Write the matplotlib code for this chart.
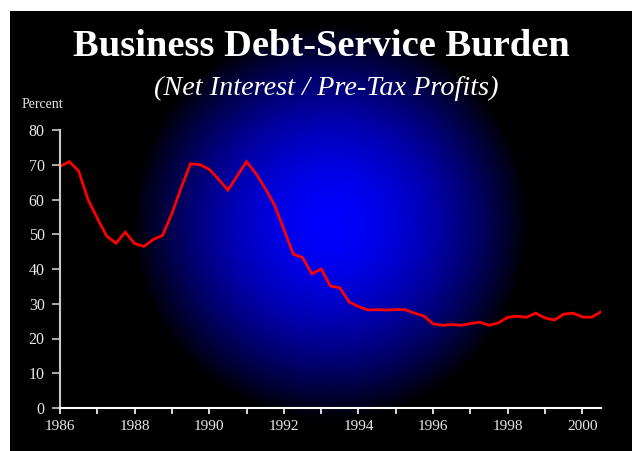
import numpy as np
import matplotlib
matplotlib.use("Agg")
import matplotlib.pyplot as plt

# Quarterly net interest as a share of pre-tax profits, 1986Q1 - 2000Q3
ratio = [
    69.5, 70.9, 68.2, 60.0, 54.6, 49.5, 47.4, 50.6, 47.3, 46.5,
    48.5, 49.7, 56.0, 63.5, 70.3, 70.0, 68.7, 65.8, 62.7, 66.8,
    70.9, 67.5, 63.2, 58.4, 51.4, 44.3, 43.3, 38.6, 40.0, 35.1,
    34.6, 30.5, 29.2, 28.2, 28.3, 28.2, 28.3, 28.3, 27.3, 26.5,
    24.2, 23.8, 24.0, 23.8, 24.3, 24.7, 23.8, 24.5, 26.1, 26.4,
    26.1, 27.3, 25.9, 25.3, 27.0, 27.3, 26.2, 26.1, 27.7,
]
start_year = 1986
dates = start_year + np.arange(len(ratio)) / 4.0

year_ticks = list(range(1986, 2001))
year_labels = [str(y) if y % 2 == 0 else "" for y in year_ticks]
pct_ticks = list(range(0, 81, 10))

title = "Business Debt-Service Burden"
subtitle = "(Net Interest / Pre-Tax Profits)"
ylabel = "Percent"

W, H = 632, 451
fig = plt.figure(figsize=(W / 100, H / 100), dpi=100)
fig.patch.set_facecolor("white")

# Background: black panel with a radial blue glow
yy, xx = np.mgrid[0:H, 0:W]
cx, cy, R = 330.0, 222.0, 198.0
r = np.sqrt((xx - cx) ** 2 + (yy - cy) ** 2) / R
glow = np.clip(1.0 - r ** 1.7, 0, 1)
img = np.zeros((H, W, 3))
img[..., 2] = glow
img[:11, :, :] = 1.0
img[:, :10, :] = 1.0
bg = fig.add_axes([0, 0, 1, 1], zorder=0)
bg.imshow(img, aspect="auto", interpolation="bilinear")
bg.set_axis_off()

serif = ["Liberation Serif", "DejaVu Serif"]

ax = fig.add_axes([60 / W, 1 - 408 / H, (601 - 60) / W, (408 - 130) / H], zorder=1)
ax.set_facecolor("none")
ax.plot(dates, ratio, color="#ff0000", lw=2.0, solid_joinstyle="miter")

ax.set_xlim(1986, dates[-1])
ax.set_ylim(0, 80)
ax.set_xticks(year_ticks)
ax.set_xticklabels(year_labels)
ax.set_yticks(pct_ticks)

for s in ("top", "right"):
    ax.spines[s].set_visible(False)
ax.spines["left"].set_color("#c8c8c8")
ax.spines["left"].set_linewidth(1.5)
ax.spines["bottom"].set_color("white")
ax.spines["bottom"].set_linewidth(1.5)

ax.tick_params(axis="x", direction="out", length=4, width=1.2, color="white",
               labelcolor="#e8e8e8", labelsize=11, pad=5)
ax.tick_params(axis="y", direction="out", length=6, width=1.2, color="#c8c8c8",
               labelcolor="#e8e8e8", labelsize=11.5, pad=5)
for lab in ax.get_xticklabels() + ax.get_yticklabels():
    lab.set_family(serif)

fig.text(321.5 / W, 1 - 47 / H, title, ha="center", va="center", color="white",
         fontsize=27.7, fontweight="bold", family=serif)
fig.text(326.5 / W, 1 - 88 / H, subtitle, ha="center", va="center", color="white",
         fontsize=20.3, style="italic", family=serif)
fig.text(42.5 / W, 1 - 105 / H, ylabel, ha="center", va="center", color="#e8e8e8",
         fontsize=10, family=serif)

fig.savefig("out.png", dpi=100, facecolor=fig.get_facecolor())
